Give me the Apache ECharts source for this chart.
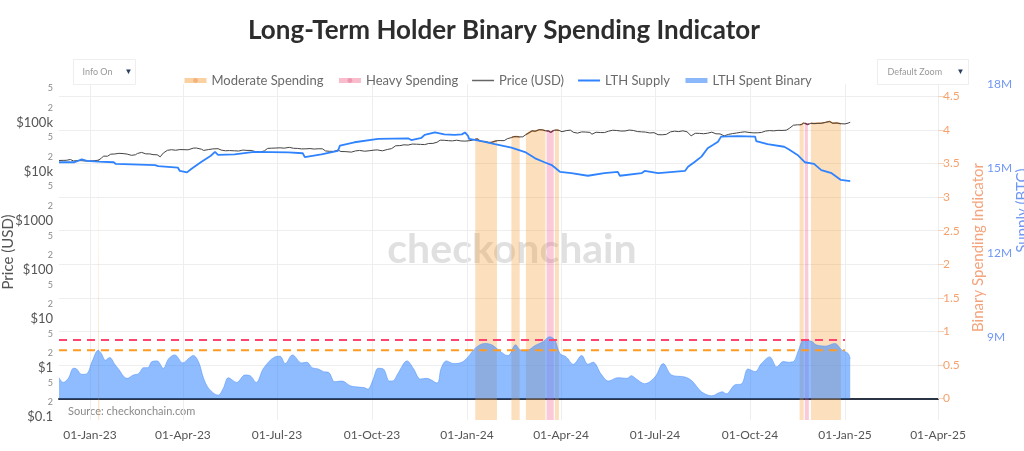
<!DOCTYPE html>
<html><head><meta charset="utf-8">
<script src="https://cdn.jsdelivr.net/npm/echarts@6/dist/echarts.min.js"></script>
<style>html,body{margin:0;padding:0;background:#fff}#c{width:1024px;height:451px}</style>
</head><body><div id="c"></div>
<script>
// ---------------- DATA ----------------
const priceDates = ['2022-12-02','2022-12-06','2022-12-09','2022-12-13','2022-12-16','2022-12-20','2022-12-24','2022-12-28',
'2023-01-01','2023-01-05','2023-01-09','2023-01-10','2023-01-12','2023-01-14','2023-01-18','2023-01-21','2023-01-25','2023-01-29',
'2023-02-02','2023-02-06','2023-02-10','2023-02-14','2023-02-16','2023-02-20','2023-02-24','2023-02-28','2023-03-03','2023-03-07',
'2023-03-10','2023-03-13','2023-03-17','2023-03-21','2023-03-25','2023-03-29','2023-04-02','2023-04-06','2023-04-11','2023-04-14',
'2023-04-19','2023-04-21','2023-04-26','2023-04-30','2023-05-05','2023-05-08','2023-05-12','2023-05-16','2023-05-21','2023-05-25',
'2023-05-29','2023-06-02','2023-06-06','2023-06-10','2023-06-15','2023-06-19','2023-06-22','2023-06-26','2023-06-30','2023-07-04',
'2023-07-08','2023-07-13','2023-07-17','2023-07-21','2023-07-25','2023-07-29','2023-08-02','2023-08-06','2023-08-10','2023-08-14',
'2023-08-17','2023-08-21','2023-08-25','2023-08-29','2023-09-01','2023-09-05','2023-09-11','2023-09-15','2023-09-19','2023-09-24',
'2023-09-29','2023-10-02','2023-10-06','2023-10-11','2023-10-16','2023-10-20','2023-10-24','2023-10-28','2023-11-01','2023-11-05',
'2023-11-09','2023-11-13','2023-11-17','2023-11-21','2023-11-25','2023-11-29','2023-12-03','2023-12-06','2023-12-10','2023-12-14',
'2023-12-18','2023-12-22','2023-12-26','2023-12-30','2024-01-03','2024-01-06','2024-01-09','2024-01-11','2024-01-14','2024-01-18',
'2024-01-22','2024-01-25','2024-01-28','2024-01-30','2024-02-02','2024-02-06','2024-02-09','2024-02-13','2024-02-15','2024-02-18',
'2024-02-21','2024-02-24','2024-02-27','2024-03-01','2024-03-04','2024-03-07','2024-03-11','2024-03-14','2024-03-17','2024-03-18',
'2024-03-20','2024-03-22','2024-03-25','2024-03-26','2024-03-28','2024-03-30','2024-04-02','2024-04-06','2024-04-10','2024-04-13',
'2024-04-17','2024-04-21','2024-04-25','2024-04-29','2024-05-01','2024-05-05','2024-05-09','2024-05-13','2024-05-17','2024-05-21',
'2024-05-25','2024-05-29','2024-06-02','2024-06-06','2024-06-10','2024-06-14','2024-06-18','2024-06-22','2024-06-26','2024-06-30',
'2024-07-04','2024-07-08','2024-07-12','2024-07-16','2024-07-20','2024-07-24','2024-07-28','2024-08-01','2024-08-05','2024-08-09',
'2024-08-13','2024-08-17','2024-08-21','2024-08-25','2024-08-29','2024-09-02','2024-09-06','2024-09-10','2024-09-14','2024-09-18',
'2024-09-22','2024-09-26','2024-09-30','2024-10-04','2024-10-08','2024-10-12','2024-10-16','2024-10-20','2024-10-24','2024-10-28',
'2024-11-01','2024-11-05','2024-11-08','2024-11-12','2024-11-16','2024-11-18','2024-11-20','2024-11-22','2024-11-23','2024-11-26',
'2024-11-27','2024-11-29','2024-12-02','2024-12-05','2024-12-09','2024-12-13','2024-12-17','2024-12-20','2024-12-24','2024-12-28',
'2025-01-01','2025-01-04','2025-01-06'];
const priceValues = [17000,17090,17130,17780,16630,16900,16840,16550,
16620,16830,17190,17440,18850,20880,20770,22800,23060,23770,
23480,22940,21650,22200,23650,24830,23170,23150,22350,22200,
20190,24110,27400,28170,27480,28350,28200,28040,30300,30480,
28800,27260,28420,29250,29540,27700,26800,27030,26750,26480,
27700,27250,27240,25850,25100,26840,29990,30270,30480,30780,
30290,31470,30140,29900,29200,29360,29700,29040,29430,29410,
26600,26120,26060,27730,25870,25780,25160,26600,27210,26250,
26910,27500,27930,26730,28500,29670,33900,34090,35430,35050,
36700,36480,36160,35800,37720,37860,39970,44080,43780,43030,
42650,43990,42520,42150,42840,43930,46120,46630,41730,41260,
39510,39940,42030,42950,43200,43090,47130,49700,51840,52140,
51280,51570,57050,62390,68300,66900,72100,71400,68390,67600,
67900,63800,69950,69990,70780,69700,65500,68900,70600,63800,
61300,64900,64500,63400,58250,63900,63000,62900,67050,70150,
69300,67600,67750,70800,69500,66000,65100,64260,61800,62700,
57000,56700,57900,65000,67200,65900,68300,65300,54000,60900,
60600,59500,61100,64200,59400,59100,53950,57650,60000,61700,
63600,65200,63300,62100,62200,63200,67600,69000,68200,69900,
69500,70300,76500,88700,90600,90500,92300,98900,97700,91900,
95900,97400,95900,96900,97400,101500,106100,97600,98700,95300,
94400,98100,102000];

const supplyDates = ['2022-12-02','2022-12-17','2022-12-24','2022-12-29','2023-01-09','2023-01-24','2023-01-26','2023-03-05',
'2023-03-08','2023-03-27','2023-03-29','2023-04-05','2023-04-09','2023-04-19','2023-04-28','2023-05-02','2023-05-05','2023-05-21',
'2023-06-09','2023-07-12','2023-07-26','2023-07-28','2023-08-13','2023-08-29','2023-08-31','2023-09-14','2023-10-07','2023-11-05',
'2023-11-08','2023-11-18','2023-11-21','2023-12-01','2023-12-10','2023-12-20','2023-12-27','2023-12-30','2024-01-02','2024-01-03',
'2024-01-15','2024-01-28','2024-02-13','2024-02-27','2024-03-07','2024-03-16','2024-03-23','2024-03-31','2024-04-11','2024-04-27',
'2024-05-13','2024-05-26','2024-05-28','2024-06-18','2024-06-21','2024-07-04','2024-07-13','2024-07-30','2024-08-02','2024-08-08',
'2024-08-15','2024-08-21','2024-08-26','2024-08-31','2024-09-03','2024-09-19','2024-10-06','2024-10-07','2024-10-18','2024-11-03',
'2024-11-07','2024-11-16','2024-11-23','2024-12-02','2024-12-09','2024-12-19','2024-12-28','2025-01-06'];
const supplyValues = [15220000,15220000,15320000,15270000,15240000,15220000,15160000,15120000,
15080000,15030000,14910000,14860000,14980000,15240000,15450000,15590000,15480000,15500000,
15590000,15570000,15540000,15400000,15500000,15620000,15810000,15930000,16050000,16070000,
16010000,16090000,16190000,16280000,16210000,16190000,16210000,16280000,16160000,16050000,
15970000,15860000,15740000,15570000,15360000,15220000,15120000,14880000,14830000,14740000,
14830000,14880000,14740000,14830000,14910000,14830000,14860000,14910000,15060000,15220000,
15420000,15720000,15830000,15950000,16130000,16150000,16130000,15970000,15860000,15770000,
15690000,15480000,15220000,15160000,14940000,14830000,14590000,14550000];

const binaryDates = ['2022-12-02','2022-12-06','2022-12-11','2022-12-16','2022-12-19','2022-12-24','2022-12-29','2023-01-03',
'2023-01-09','2023-01-12','2023-01-16','2023-01-20','2023-01-25','2023-01-28','2023-02-06','2023-02-12','2023-02-17','2023-02-22',
'2023-02-26','2023-03-02','2023-03-07','2023-03-13','2023-03-18','2023-03-24','2023-04-01','2023-04-06','2023-04-11','2023-04-16',
'2023-04-21','2023-04-26','2023-05-05','2023-05-10','2023-05-15','2023-05-23','2023-05-31','2023-06-05','2023-06-11','2023-06-18',
'2023-06-29','2023-07-04','2023-07-09','2023-07-16','2023-07-25','2023-07-30','2023-08-04','2023-08-10','2023-08-15','2023-08-20',
'2023-08-26','2023-09-02','2023-09-10','2023-09-18','2023-09-24','2023-09-27','2023-10-02','2023-10-07','2023-10-12','2023-10-18',
'2023-10-22','2023-10-26','2023-11-04','2023-11-10','2023-11-17','2023-11-23','2023-12-03','2023-12-07','2023-12-12','2023-12-19',
'2023-12-27','2024-01-02','2024-01-09','2024-01-18','2024-01-25','2024-01-31','2024-02-07','2024-02-10','2024-02-17','2024-02-21',
'2024-02-26','2024-03-07','2024-03-15','2024-03-21','2024-03-26','2024-03-31','2024-04-06','2024-04-13','2024-04-21','2024-04-27',
'2024-05-02','2024-05-10','2024-05-17','2024-05-26','2024-06-04','2024-06-08','2024-06-13','2024-06-21','2024-07-01','2024-07-09',
'2024-07-17','2024-07-30','2024-08-06','2024-08-15','2024-08-25','2024-09-04','2024-09-08','2024-09-16','2024-09-23','2024-09-29',
'2024-10-06','2024-10-12','2024-10-20','2024-10-27','2024-11-02','2024-11-07','2024-11-12','2024-11-17','2024-11-22','2024-11-30',
'2024-12-04','2024-12-13','2024-12-22','2024-12-29','2025-01-04','2025-01-06'];
const binaryValues = [0.31,0.24,0.30,0.45,0.44,0.36,0.37,0.55,
0.72,0.67,0.57,0.61,0.51,0.45,0.30,0.35,0.37,0.46,
0.46,0.55,0.56,0.45,0.59,0.65,0.53,0.59,0.64,0.55,
0.30,0.15,0.05,0.15,0.31,0.24,0.35,0.34,0.24,0.45,
0.62,0.63,0.52,0.65,0.53,0.54,0.46,0.44,0.40,0.39,
0.25,0.26,0.19,0.17,0.16,0.14,0.28,0.45,0.44,0.26,
0.27,0.37,0.56,0.45,0.29,0.30,0.23,0.45,0.56,0.52,
0.54,0.62,0.75,0.82,0.80,0.73,0.65,0.64,0.80,0.73,
0.70,0.79,0.85,0.92,0.87,0.67,0.62,0.51,0.64,0.51,
0.54,0.36,0.26,0.31,0.30,0.34,0.29,0.22,0.32,0.52,
0.35,0.32,0.26,0.10,0.04,0.10,0.07,0.20,0.22,0.44,
0.40,0.52,0.62,0.47,0.55,0.54,0.55,0.72,0.87,0.85,
0.80,0.78,0.82,0.72,0.67,0.59];

const moderateRanges = [['2023-01-09','2023-01-10'],['2024-01-09','2024-01-30'],['2024-02-13','2024-02-21'],
  ['2024-02-27','2024-03-17'],['2024-03-26','2024-03-30'],['2024-11-18','2024-11-22'],['2024-11-29','2024-12-28']];
const heavyRanges = [['2024-03-18','2024-03-25'],['2024-11-23','2024-11-27']];

const heavyThreshold = 0.87;
const moderateThreshold = 0.72;
const thresholdDates = ['2022-12-02','2025-01-01'];

const xTickDates = ['2023-01-01','2023-04-01','2023-07-01','2023-10-01','2024-01-01','2024-04-01','2024-07-01','2024-10-01','2025-01-01','2025-04-01'];
const monthNames = ['Jan','Feb','Mar','Apr','May','Jun','Jul','Aug','Sep','Oct','Nov','Dec'];
const priceTickLabels = ['$0.1','$1','$10','$100','$1000','$10k','$100k'];
const binaryTicks = {min:0, max:4.5, interval:0.5};
const supplyTicks = {min:9000000, max:18000000, interval:3000000};

// ---------------- BUILD ----------------
const FONT = 'Lato, "Open Sans", sans-serif';
const lg = Math.log10;
function ts(s){ const p = s.split('-').map(Number); return Date.UTC(p[0], p[1]-1, p[2]); }
function inRanges(d, ranges){ return ranges.some(r => d >= r[0] && d <= r[1]); }
const priceSeries = priceDates.map((d,i) => [ts(d), lg(priceValues[i])]);
const modSeries = priceDates.map((d,i) => [ts(d), inRanges(d, moderateRanges) ? lg(priceValues[i]) : null]);
const heavySeries = priceDates.map((d,i) => [ts(d), inRanges(d, heavyRanges) ? lg(priceValues[i]) : null]);
const supplySeries = supplyDates.map((d,i) => [ts(d), supplyValues[i]]);
const binarySeries = binaryDates.map((d,i) => [ts(d), binaryValues[i]]);

const priceLabelVals = [];
for (let k = -1; k < priceTickLabels.length - 1; k++) {
  priceLabelVals.push(k, k + lg(2), k + lg(5));
}
const xTickVals = xTickDates.map(ts);
function fmtDate(v){ const d = new Date(v); return String(d.getUTCDate()).padStart(2,'0') + '-' + monthNames[d.getUTCMonth()] + '-' + String(d.getUTCFullYear()).slice(2); }

const X_MIN = ts('2022-12-02'), X_MAX = ts('2025-04-01');
const chart = echarts.init(document.getElementById('c'), null, {renderer:'canvas'});
const hiddenX = (gi, extra) => Object.assign({type:'value', gridIndex:gi, min:X_MIN, max:X_MAX,
  axisLabel:{show:false}, axisTick:{show:false}, splitLine:{show:false}, axisLine:{show:false}}, extra||{});

chart.setOption({
  animation:false,
  textStyle:{fontFamily:FONT},
  title:{text:'Long-Term Holder Binary Spending Indicator', left:243, top:13,
    textStyle:{fontFamily:FONT, fontWeight:'bold', fontSize:26, color:'#2d2d2d'}},
  legend:{left:177, top:69, itemWidth:22, itemHeight:6, itemGap:13,
    textStyle:{fontFamily:FONT, fontSize:13, color:'#6a6a6a'},
    data:[
      {name:'Moderate Spending', lineStyle:{color:'#fbd1a2', width:5}, itemStyle:{color:'#f2b27c'}},
      {name:'Heavy Spending', lineStyle:{color:'#f8bccd', width:5}, itemStyle:{color:'#ee97b0'}},
      {name:'Price (USD)', lineStyle:{color:'#666', width:1.5}, itemStyle:{opacity:0}},
      {name:'LTH Supply', lineStyle:{color:'#2f83ff', width:2}, itemStyle:{opacity:0}},
      {name:'LTH Spent Binary', lineStyle:{color:'#8bb8fa', width:5}, itemStyle:{opacity:0}}
    ]},
  grid:[
    {left:59, right:86, top:84, bottom:31, outerBoundsMode:'none', containLabel:false},
    {left:59, right:86, top:96.5, bottom:52.5, outerBoundsMode:'none', containLabel:false},
    {left:59, right:86, top:84, bottom:113.7, outerBoundsMode:'none', containLabel:false}
  ],
  xAxis:[
    {type:'value', gridIndex:0, min:X_MIN, max:X_MAX,
      axisLine:{show:false}, axisTick:{show:false, customValues:xTickVals},
      axisLabel:{customValues:xTickVals, formatter:fmtDate, color:'#555', fontSize:12, margin:9, fontFamily:FONT},
      splitLine:{show:true, lineStyle:{color:'#eeeeee', width:1}}},
    hiddenX(1, {axisLine:{show:true, onZero:true, lineStyle:{color:'#2b3445', width:2}}}),
    hiddenX(2)
  ],
  yAxis:[
    {type:'value', gridIndex:0, min:-1.055, max:5.788, position:'left',
      name:'Price (USD)', nameLocation:'middle', nameGap:43, nameMoveOverlap:false,
      nameTextStyle:{fontFamily:FONT, fontSize:15, color:'#555'},
      axisLine:{show:false}, axisTick:{show:false}, splitLine:{show:false},
      axisLabel:{customValues:priceLabelVals, margin:6, fontFamily:FONT,
        formatter:function(v){ const k = Math.floor(v + 1e-6); const f = v - k;
          if (f < 0.05) return '{maj|' + priceTickLabels[k+1] + '}';
          return '{mn|' + (f < 0.5 ? '2' : '5') + '}'; },
        rich:{maj:{fontSize:13, color:'#555', fontFamily:FONT}, mn:{fontSize:9, color:'#888', fontFamily:FONT}}}},
    {type:'value', gridIndex:1, position:'right', min:binaryTicks.min, max:binaryTicks.max, interval:binaryTicks.interval,
      name:'Binary Spending Indicator', nameLocation:'middle', nameGap:33, nameMoveOverlap:false,
      nameTextStyle:{fontFamily:FONT, fontSize:15, color:'#f4a47c'},
      axisLine:{show:false}, axisTick:{show:true, length:6, lineStyle:{color:'#f6d2b8'}},
      axisLabel:{color:'#f5a26f', fontSize:12, margin:5, fontFamily:FONT},
      splitLine:{show:true, lineStyle:{color:'#eeeeee', width:1}}},
    {type:'value', gridIndex:2, position:'right', min:supplyTicks.min, max:supplyTicks.max, interval:supplyTicks.interval,
      name:'Supply (BTC)', nameLocation:'middle', nameGap:77, nameMoveOverlap:false,
      nameTextStyle:{fontFamily:FONT, fontSize:15, color:'#7097f5'},
      axisLine:{show:false}, axisTick:{show:false}, splitLine:{show:false},
      axisLabel:{color:'#7097f5', fontSize:12, margin:49, fontFamily:FONT, formatter:v => (v/1e6) + 'M'}}
  ],
  series:[
    {name:'Moderate Spending', type:'line', xAxisIndex:0, yAxisIndex:0, data:modSeries, symbol:'none', connectNulls:false,
      lineStyle:{color:'rgba(226,132,45,0.9)', width:1.5}, itemStyle:{color:'#f2b27c'},
      areaStyle:{origin:'start', color:'rgba(247,158,55,0.33)', opacity:1}, z:1},
    {name:'Heavy Spending', type:'line', xAxisIndex:0, yAxisIndex:0, data:heavySeries, symbol:'none', connectNulls:false,
      lineStyle:{color:'rgba(200,40,90,0.9)', width:1.5}, itemStyle:{color:'#ee97b0'},
      areaStyle:{origin:'start', color:'rgba(242,90,140,0.32)', opacity:1}, z:1},
    {name:'LTH Spent Binary', type:'line', xAxisIndex:1, yAxisIndex:1, data:binarySeries, symbol:'none', smooth:0.35,
      lineStyle:{color:'rgba(80,145,250,0.55)', width:1}, itemStyle:{color:'#8bb8fa'},
      areaStyle:{color:'rgba(51,133,255,0.55)', opacity:1}, z:2},
    {name:'Heavy Threshold', type:'line', xAxisIndex:1, yAxisIndex:1, symbol:'none',
      data:thresholdDates.map(d => [ts(d), heavyThreshold]), lineStyle:{color:'#ff4470', width:2, type:[8,6]}, z:3},
    {name:'Moderate Threshold', type:'line', xAxisIndex:1, yAxisIndex:1, symbol:'none',
      data:thresholdDates.map(d => [ts(d), moderateThreshold]), lineStyle:{color:'#ff9a22', width:2, type:[8,6]}, z:3},
    {name:'Price (USD)', type:'line', xAxisIndex:0, yAxisIndex:0, data:priceSeries, symbol:'none',
      lineStyle:{color:'#444', width:1}, itemStyle:{color:'#444'}, z:4},
    {name:'LTH Supply', type:'line', xAxisIndex:2, yAxisIndex:2, data:supplySeries, symbol:'none',
      lineStyle:{color:'#2f83ff', width:1.8}, itemStyle:{color:'#2f83ff'}, z:5}
  ],
  graphic:[
    {type:'text', left:'center', top:229, z:-1, silent:true,
      style:{text:'checkonchain', fill:'#e0e0e0', font:'bold 41px ' + FONT}},
    {type:'text', left:68, top:406, silent:true,
      style:{text:'Source: checkonchain.com', fill:'#8a8a8a', font:'11px ' + FONT}},
    {type:'group', left:73, top:59, children:[
      {type:'rect', shape:{x:0, y:0, width:62, height:25}, style:{fill:'#fff', stroke:'#eeeeee', lineWidth:1}},
      {type:'text', x:9, y:8, style:{text:'Info On', fill:'#999', font:'9px ' + FONT}},
      {type:'text', x:51, y:8, style:{text:'\u25BC', fill:'#2a3f5f', font:'8px ' + FONT}}
    ]},
    {type:'group', left:877, top:59, children:[
      {type:'rect', shape:{x:0, y:0, width:91, height:25}, style:{fill:'#fff', stroke:'#eeeeee', lineWidth:1}},
      {type:'text', x:10, y:8, style:{text:'Default Zoom', fill:'#999', font:'9px ' + FONT}},
      {type:'text', x:79, y:8, style:{text:'\u25BC', fill:'#2a3f5f', font:'8px ' + FONT}}
    ]}
  ]
});
</script>
</body></html>
